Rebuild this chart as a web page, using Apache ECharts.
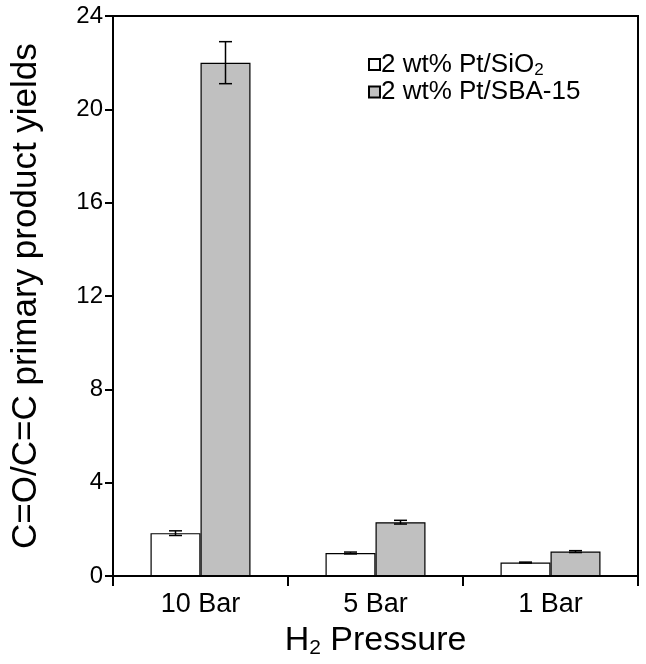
<!DOCTYPE html>
<html>
<head>
<meta charset="utf-8">
<script src="https://cdn.jsdelivr.net/npm/echarts@6/dist/echarts.min.js"></script>
<style>html,body{margin:0;padding:0;background:#fff}#c{width:646px;height:664px}</style>
</head>
<body>
<div id="c"></div>
<script>
const categories = ['10 Bar', '5 Bar', '1 Bar'];
const sio2Values = [1.84, 0.99, 0.58];
const sio2Errors = [0.10, 0.04, 0.02];
const sbaValues = [22.0, 2.31, 1.05];
const sbaErrors = [0.9, 0.08, 0.04];
const yTicks = [0, 4, 8, 12, 16, 20, 24];

const FONT = 'Liberation Sans, Arial, sans-serif';
const BARW = 50;

function errorSeries(name, values, errors, offset) {
  return {
    type: 'custom',
    name: name + '_err',
    z: 10,
    silent: true,
    data: values.map((v, i) => [i, v - errors[i], v + errors[i]]),
    renderItem: function (params, api) {
      const lo = api.coord([api.value(0), api.value(1)]);
      const hi = api.coord([api.value(0), api.value(2)]);
      const x = lo[0] + offset;
      const cap = 6.5;
      const st = { stroke: '#000', lineWidth: 1.5 };
      return {
        type: 'group',
        children: [
          { type: 'line', shape: { x1: x, y1: lo[1], x2: x, y2: hi[1] }, style: st },
          { type: 'line', shape: { x1: x - cap, y1: lo[1], x2: x + cap, y2: lo[1] }, style: st },
          { type: 'line', shape: { x1: x - cap, y1: hi[1], x2: x + cap, y2: hi[1] }, style: st }
        ]
      };
    }
  };
}

const chart = echarts.init(document.getElementById('c'), null, { renderer: 'canvas' });
chart.setOption({
  animation: false,
  backgroundColor: '#fff',
  textStyle: { fontFamily: FONT },
  grid: {
    left: 113, right: 8, top: 16, bottom: 86,
    show: true, borderColor: '#000', borderWidth: 2, backgroundColor: 'transparent'
  },
  legend: {
    data: ['sio2', 'sba'],
    orient: 'vertical',
    left: 363, top: 45,
    itemWidth: 11, itemHeight: 11, itemGap: 0,
    icon: 'rect',
    formatter: function (n) {
      return n === 'sio2' ? '{a|2 wt% Pt/SiO}{s|2}' : '{a|2 wt% Pt/SBA-15}';
    },
    textStyle: {
      fontFamily: FONT, color: '#000', padding: [0, 0, 0, -4],
      rich: {
        a: { fontSize: 26, lineHeight: 30, fontFamily: FONT, color: '#000' },
        s: { fontSize: 17, lineHeight: 30, fontFamily: FONT, color: '#000', padding: [12, 0, 0, 0] }
      }
    }
  },
  xAxis: {
    type: 'category',
    data: categories,
    axisLine: { lineStyle: { color: '#000', width: 2 } },
    axisTick: { show: true, inside: false, length: 10, alignWithLabel: false, lineStyle: { color: '#000', width: 2 } },
    axisLabel: { fontSize: 27, color: '#000', margin: 15, fontFamily: FONT },
    name: '{a|H}{s|2}{a| Pressure}',
    nameLocation: 'middle',
    nameGap: 41,
    nameTextStyle: {
      rich: {
        a: { fontSize: 34, lineHeight: 36, color: '#000', fontFamily: FONT },
        s: { fontSize: 21, lineHeight: 36, color: '#000', fontFamily: FONT, padding: [15, 0, 0, 0] }
      }
    }
  },
  yAxis: {
    type: 'value',
    min: 0, max: 24, interval: 4,
    splitLine: { show: false },
    axisLine: { show: true, lineStyle: { color: '#000', width: 2 } },
    axisTick: { show: true, inside: false, length: 8, lineStyle: { color: '#000', width: 2 } },
    axisLabel: {
      fontSize: 24, color: '#000', margin: 10, fontFamily: FONT,
      formatter: function (v) { return yTicks.indexOf(v) >= 0 ? String(v) : ''; }
    },
    name: 'C=O/C=C primary product yields',
    nameLocation: 'middle',
    nameGap: 69,
    nameTextStyle: { fontSize: 35, color: '#000', fontFamily: FONT }
  },
  series: [
    {
      name: 'sio2', type: 'bar', data: sio2Values, barWidth: BARW, barGap: '0%',
      itemStyle: { color: '#ffffff', borderColor: '#000', borderWidth: 1.2 }
    },
    {
      name: 'sba', type: 'bar', data: sbaValues, barWidth: BARW, barGap: '0%',
      itemStyle: { color: '#c0c0c0', borderColor: '#000', borderWidth: 1.2 }
    },
    errorSeries('sio2', sio2Values, sio2Errors, -BARW / 2),
    errorSeries('sba', sbaValues, sbaErrors, BARW / 2)
  ]
});
</script>
</body>
</html>
